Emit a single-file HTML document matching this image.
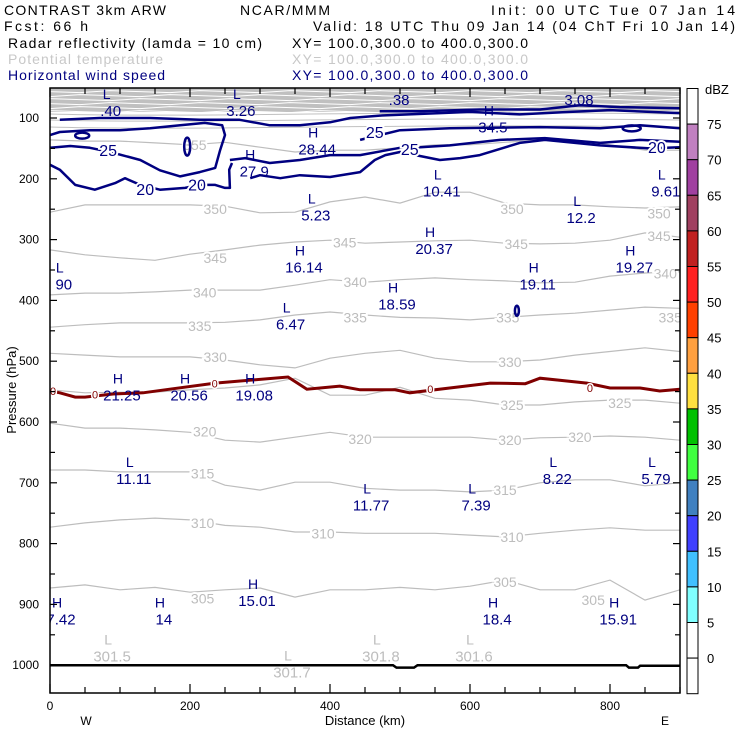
<!DOCTYPE html>
<html><head><meta charset="utf-8"><style>
html,body{margin:0;padding:0;background:#fff;}
svg{display:block;font-family:"Liberation Sans",sans-serif;}
</style></head><body>
<svg id="c" width="740" height="740" viewBox="0 0 740 740" xmlns="http://www.w3.org/2000/svg">
<g font-size="14">
<text x="4" y="15" textLength="162">CONTRAST  3km ARW</text>
<text x="240" y="15" textLength="90">NCAR/MMM</text>
<text x="491" y="15" textLength="244">Init: 00 UTC Tue 07 Jan 14</text>
<text x="4" y="31" textLength="84">Fcst:   66 h</text>
<text x="313" y="31" textLength="422">Valid: 18 UTC Thu 09 Jan 14 (04 ChT Fri 10 Jan 14)</text>
<text x="8" y="48" textLength="254">Radar reflectivity (lamda = 10 cm)</text>
<text x="292" y="48" textLength="236">XY= 100.0,300.0 to 400.0,300.0</text>
<text x="8" y="64" textLength="155" fill="#c8c8c8">Potential temperature</text>
<text x="292" y="64" textLength="236" fill="#c8c8c8">XY= 100.0,300.0 to 400.0,300.0</text>
<text x="8" y="80" textLength="157" fill="#000080">Horizontal wind speed</text>
<text x="292" y="80" textLength="236" fill="#000080">XY= 100.0,300.0 to 400.0,300.0</text>
</g>
<g id="plot"></g>
<g id="axes"></g>
<g id="cbar"></g>
</svg>
<script>
// ---------- data ----------
const knotsKm = [0,50,100,150,200,250,300,350,400,450,500,550,600,650,700,750,800,850,900];
const thetaLevels = [355,350,345,340,335,330,325,320,315,310,305];
const theta355 = [136,138,138,141,144,140,148,156,153,153,149,144,144,140,136,136,144,153,153];
const theta350 = [255,243,243,243,243,245,256,255,238,230,240,222,222,240,243,243,246,248,246];
const theta345 = [317,325,330,334,324,317,309,304,301,306,304,302,301,306,307,306,301,289,296];
const theta340 = [391,388,388,386,383,383,383,375,366,370,366,363,366,368,371,370,360,355,353];
const theta335 = [444,440,437,437,437,436,432,424,419,424,428,429,432,428,424,421,416,411,413];
const theta330 = [487,490,493,493,493,498,506,511,495,487,482,495,501,501,498,490,484,478,484];
const theta325 = [547,552,551,551,547,544,539,528,556,556,543,561,564,572,572,567,564,564,569];
const theta320 = [602,610,610,613,617,630,633,625,617,625,625,625,625,630,626,625,623,625,630];
const theta315 = [679,679,682,682,682,704,712,699,699,709,712,712,715,712,700,695,695,705,700];
const theta310 = [773,766,761,758,761,770,773,781,781,783,783,783,786,789,783,778,774,778,778];
const theta305 = [873,868,876,872,880,876,873,888,876,876,872,876,870,860,876,876,860,893,876];
// theta label positions [km, hPa, text]
const thetaLabels = [[207,144,"355"],[236,250,"350"],[660,250,"350"],[870,257,"350"],[236,330,"345"],[421,305,"345"],[666,307,"345"],[870,294,"345"],[221,387,"340"],[436,370,"340"],[879,356,"340"],[214,442,"335"],[436,428,"335"],[654,428,"335"],[886,428,"335"],[236,493,"330"],[657,501,"330"],[660,572,"325"],[814,569,"325"],[221,616,"320"],[443,628,"320"],[657,630,"320"],[757,625,"320"],[218,685,"315"],[650,712,"315"],[218,766,"310"],[390,783,"310"],[660,789,"310"],[218,890,"305"],[650,863,"305"],[776,893,"305"]];
// wind-speed contours [km, hPa] pairs
const wind20a = [[0,177],[14,185],[36,210],[64,218],[93,207],[107,199],[129,210],[157,218],[193,215],[214,210],[236,210],[250,215],[257,215],[256,185],[260,174]];
const wind20b = [[286,199],[300,194],[329,199],[357,194],[400,197],[443,189],[464,169],[479,161],[500,156],[557,169],[586,166],[614,161],[671,141],[707,136],[786,145],[857,150],[900,148]];
const wind25a = [[0,149],[29,146],[57,149],[86,156],[129,169],[157,186],[186,196],[214,189],[236,182],[243,153],[250,128],[246,112],[221,108],[186,112],[143,117],[100,120],[57,120],[14,123],[0,128]];
const wind25b = [[257,169],[279,166],[314,174],[357,169],[400,161],[443,161],[500,149],[529,148],[571,145],[643,136],[707,133],[786,141],[843,136],[900,139]];
const wind30 = [[443,136],[500,120],[571,117],[700,115],[786,117],[843,112],[900,117]];
const wind35 = [[14,103],[71,100],[143,100],[214,103],[271,103],[314,112],[357,112],[400,107],[429,100],[471,96],[557,92],[600,90],[671,94],[743,90],[800,87],[857,90],[900,92]];
const wind40 = [[471,89],[529,89],[614,86],[700,86],[757,79],[814,82],[900,84]];
const zeroDbz = [[0,549],[14,552],[36,559],[50,559],[90,554],[133,552],[171,546],[236,536],[340,526],[367,546],[414,541],[443,547],[493,547],[514,552],[571,544],[629,536],[679,537],[700,528],[767,536],[800,544],[843,544],[871,549],[900,546],[900,546]];
const groundP = [[0,1000],[490,1000],[495,1004],[520,1004],[525,1000],[823,1000],[827,1004],[840,1004],[843,1001],[900,1001]];
// H/L extrema markers [km, hPa, letter, value, color]
const extrema = [
[81,69,"L",".40","n"],[267,69,"L","3.26","n"],[493,51,"L",".38","n"],[750,51,"L","3.08","n"],
[627,96,"H","34.5","n"],[376,132,"H","28.44","n"],[286,168,"H","27.9","n"],[554,201,"L","10.41","n"],
[374,241,"L","5.23","n"],[753,245,"L","12.2","n"],[874,201,"L","9.61","n"],[543,296,"H","20.37","n"],
[357,326,"H","16.14","n"],[829,326,"H","19.27","n"],[691,354,"H","19.11","n"],[490,387,"H","18.59","n"],
[14,354,"L","90","n"],[338,420,"L","6.47","n"],[97,537,"H","21.25","n"],[193,537,"H","20.56","n"],
[286,537,"H","19.08","n"],[114,674,"L","11.11","n"],[453,718,"L","11.77","n"],[603,718,"L","7.39","n"],
[719,674,"L","8.22","n"],[860,674,"L","5.79","n"],[290,875,"H","15.01","n"],[10,905,"H","7.42","n"],
[157,905,"H","14","n"],[633,905,"H","18.4","n"],[806,905,"H","15.91","n"],
[83,966,"L","301.5","g"],[340,992,"L","301.7","g"],[467,966,"L","301.8","g"],[600,966,"L","301.6","g"]];
const windLabels = [[83,153,"25"],[464,123,"25"],[514,151,"25"],[136,217,"20"],[210,209,"20"],[867,148,"20"]];
const yTicks = [100,200,300,400,500,600,700,800,900,1000];
const xTicks = [0,200,400,600,800];
const dbzLevels = [75,70,65,60,55,50,45,40,35,30,25,20,15,10,5,0];
const dbzColors = ["#ffffff","#c080c0","#a040a0","#a04060","#c02020","#ff2020","#ff4000","#ffa040","#ffe040","#00c000","#40ff40","#4080c0","#4040ff","#40c0ff","#80ffff","#ffffff","#ffffff"];

// ---------- scales ----------
const X0=50, X1=680, Y0=88, Y1=693;
const xs = km => X0 + km*(X1-X0)/900;
const ys = p => 118 + (p-100)*0.608;
const NS="http://www.w3.org/2000/svg";
function mk(tag, attrs, parent){const e=document.createElementNS(NS,tag);for(const k in attrs)e.setAttribute(k,attrs[k]);parent.appendChild(e);return e;}
const plot=document.getElementById('plot'), axes=document.getElementById('axes'), cbar=document.getElementById('cbar');

// clip
const defs=mk('defs',{},plot);
const cp=mk('clipPath',{id:'clip'},defs); mk('rect',{x:X0,y:Y0,width:X1-X0,height:Y1-Y0},cp);
const g=mk('g',{'clip-path':'url(#clip)'},plot);

// stratosphere gray band
const band=mk('rect',{x:X0,y:Y0,width:X1-X0,height:24,fill:'#c0c0c0'},g);


for(let i=0;i<6;i++){
  const yy=Y0+3+i*4;
  let d='M'+X0+' '+yy;
  for(let x=X0;x<=X1;x+=30){d+=' L'+x+' '+(yy+((x/30+i)%3-1));}
  const l=mk('path',{d:d,stroke:'#ffffff','stroke-width':1,fill:'none'},g);
  
  
}
[114,120,127].forEach((yy,i)=>{
  const l=mk('path',{d:`M${X0} ${yy} C200 ${yy+4} 400 ${yy-4} ${X1} ${yy}`,stroke:'#c0c0c0','stroke-width':1,fill:'none'},g);
  
  
});

// theta contours
const thetaSeries=[theta355,theta350,theta345,theta340,theta335,theta330,theta325,theta320,theta315,theta310,theta305];
thetaSeries.forEach((arr,i)=>{
  const d=arr.map((p,j)=>(j?'L':'M')+xs(knotsKm[j]).toFixed(1)+' '+ys(p).toFixed(1)).join(' ');
  const l=mk('path',{d:d,stroke:'#bdbdbd','stroke-width':1.2,fill:'none'},g);
  
  
});
thetaLabels.forEach(t=>{
  const e=mk('text',{x:xs(t[0]),y:ys(t[1])+5,'font-size':14,fill:'#bdbdbd','text-anchor':'middle',stroke:'#fff','stroke-width':4,'paint-order':'stroke'},g);
  e.textContent=t[2];
  
  
});

// 0 dBZ contour
function pathOf(pts){return pts.map((q,j)=>(j?'L':'M')+xs(q[0]).toFixed(1)+' '+ys(q[1]).toFixed(1)).join(' ');}
const zl=mk('path',{d:pathOf(zeroDbz),stroke:'#800000','stroke-width':3,fill:'none'},g);


[[0,549],[60,555],[231,537],[539,546],[767,544]].forEach(q=>{
  const e=mk('text',{x:xs(q[0])+3,y:ys(q[1])+4,'font-size':11,fill:'#800000','text-anchor':'middle',stroke:'#fff','stroke-width':3,'paint-order':'stroke'},g);
  e.textContent='0';
  
  
});

// wind contours
[[wind20a,'wind-20-left'],[wind20b,'wind-20-right'],[wind25a,'wind-25-left'],[wind25b,'wind-25-right'],[wind30,'wind-30'],[wind35,'wind-35'],[wind40,'wind-40']].forEach(w=>{
  const l=mk('path',{d:pathOf(w[0]),stroke:'#000080','stroke-width':2.5,fill:'none','stroke-linejoin':'round'},g);
  
  
});
[[46,129,7,3],[196,147,3,9],[831,117,9,3],[667,417,2,5]].forEach(q=>{
  const e=mk('ellipse',{cx:xs(q[0]),cy:ys(q[1]),rx:q[2],ry:q[3],stroke:'#000080','stroke-width':2.5,fill:'none'},g);
  
  
});
windLabels.forEach(t=>{
  const e=mk('text',{x:xs(t[0]),y:ys(t[1])+6,'font-size':16,fill:'#000080','text-anchor':'middle',stroke:'#fff','stroke-width':4,'paint-order':'stroke'},g);
  e.textContent=t[2];
  
  
});

// ground line
const gl=mk('path',{d:pathOf(groundP),stroke:'#000','stroke-width':2.5,fill:'none'},g);



// extrema
extrema.forEach(t=>{
  const col=t[4]==='g'?'#bdbdbd':'#000080';
  const x=xs(t[0]), y=ys(t[1]);
  const a=mk('text',{x:x,y:y,'font-size':14,fill:col,'text-anchor':'middle'},g);
  a.textContent=t[2];
  
  
  const b=mk('text',{x:x+4,y:y+17,'font-size':15,fill:col,'text-anchor':'middle'},g);
  b.textContent=t[3];
  
  
});

// frame & ticks
const fr=mk('rect',{x:X0,y:Y0,width:X1-X0,height:Y1-Y0,fill:'none',stroke:'#000','stroke-width':1.5},axes);


for(let p=100;p<=1000;p+=50){
  const y=ys(p), L=(p%100===0)?7:5;
  mk('line',{x1:X0,y1:y,x2:X0+L,y2:y,stroke:'#000','stroke-width':1.2},axes);
  mk('line',{x1:X1,y1:y,x2:X1-L,y2:y,stroke:'#000','stroke-width':1.2},axes);
}
yTicks.forEach(p=>{
  const e=mk('text',{x:39,y:ys(p)+4,'font-size':12,'text-anchor':'end'},axes);
  e.textContent=p;
  
  
});
for(let km=0;km<=900;km+=50){
  const x=xs(km), L=(km%200===0)?9:6;
  mk('line',{x1:x,y1:Y0,x2:x,y2:Y0+L,stroke:'#000','stroke-width':1.2},axes);
  mk('line',{x1:x,y1:Y1,x2:x,y2:Y1-L,stroke:'#000','stroke-width':1.2},axes);
}
xTicks.forEach(km=>{
  const e=mk('text',{x:xs(km),y:710,'font-size':12,'text-anchor':'middle'},axes);
  e.textContent=km;
  
  
});
const xt=mk('text',{x:365,y:725,'font-size':13,'text-anchor':'middle'},axes);
xt.textContent='Distance (km)';


const wt=mk('text',{x:86,y:725,'font-size':12,'text-anchor':'middle'},axes);
wt.textContent='W';


const et=mk('text',{x:665,y:725,'font-size':12,'text-anchor':'middle'},axes);
et.textContent='E';


const yt=mk('text',{x:16,y:390,'font-size':13,'text-anchor':'middle',transform:'rotate(-90 16 390)'},axes);
yt.textContent='Pressure (hPa)';



// colorbar
const CB0=88.5, CBH=35.6;
dbzColors.forEach((c,i)=>{
  const r=mk('rect',{x:687,y:CB0+i*CBH,width:11,height:CBH,fill:c,stroke:'#000','stroke-width':1},cbar);
  
  
});
dbzLevels.forEach((v,i)=>{
  const e=mk('text',{x:707,y:CB0+(i+1)*CBH+5,'font-size':13},cbar);
  e.textContent=v;
  
  
});
const du=mk('text',{x:705,y:94,'font-size':13},cbar);
du.textContent='dBZ';


</script>
</body></html>
